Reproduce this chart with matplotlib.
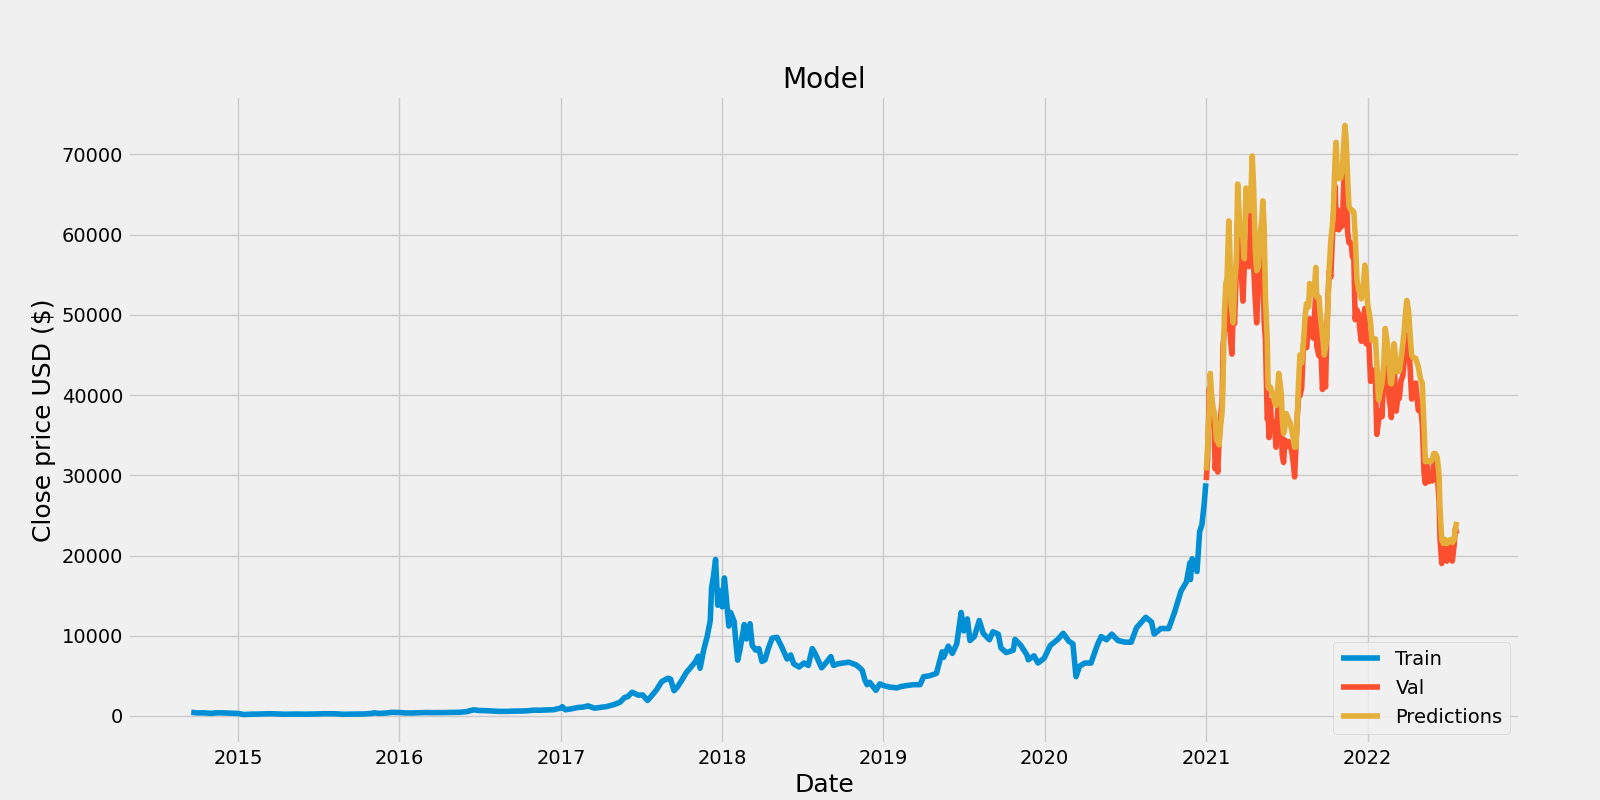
import matplotlib
matplotlib.use("Agg")
import matplotlib.pyplot as plt
import pandas as pd

# Train closes (BTC-USD)
train_dates = [
    "2014-09-17", "2014-10-01", "2014-10-15", "2014-11-01", "2014-11-15", "2014-12-01", "2014-12-15",
    "2015-01-01", "2015-01-14", "2015-02-01", "2015-02-15", "2015-03-01", "2015-03-15", "2015-04-01",
    "2015-04-15", "2015-05-01", "2015-05-15", "2015-06-01", "2015-06-15", "2015-07-01", "2015-07-15",
    "2015-08-01", "2015-08-15", "2015-08-25", "2015-09-15", "2015-10-01", "2015-10-15", "2015-11-01",
    "2015-11-04", "2015-11-15", "2015-12-01", "2015-12-15", "2016-01-01", "2016-01-15", "2016-02-01",
    "2016-02-15", "2016-03-01", "2016-03-15", "2016-04-01", "2016-04-15", "2016-05-01", "2016-05-15",
    "2016-06-01", "2016-06-17", "2016-07-01", "2016-07-15", "2016-08-01", "2016-08-15", "2016-09-01",
    "2016-09-15", "2016-10-01", "2016-10-15", "2016-11-01", "2016-11-15", "2016-12-01", "2016-12-15",
    "2017-01-01", "2017-01-04", "2017-01-11", "2017-01-25", "2017-02-08", "2017-02-22", "2017-03-03",
    "2017-03-18", "2017-04-01", "2017-04-15", "2017-05-01", "2017-05-15", "2017-05-25", "2017-06-01",
    "2017-06-11", "2017-06-25", "2017-07-05", "2017-07-16", "2017-07-26", "2017-08-05", "2017-08-17",
    "2017-08-31", "2017-09-06", "2017-09-14", "2017-09-22", "2017-10-01", "2017-10-12", "2017-10-21",
    "2017-11-01", "2017-11-08", "2017-11-12", "2017-11-20", "2017-11-28", "2017-12-05", "2017-12-08",
    "2017-12-12", "2017-12-17", "2017-12-22", "2017-12-27", "2018-01-01", "2018-01-06", "2018-01-10",
    "2018-01-16", "2018-01-20", "2018-01-28", "2018-02-01", "2018-02-05", "2018-02-10", "2018-02-20",
    "2018-02-25", "2018-03-05", "2018-03-10", "2018-03-18", "2018-03-25", "2018-04-01", "2018-04-08",
    "2018-04-15", "2018-04-24", "2018-05-05", "2018-05-15", "2018-05-28", "2018-06-05", "2018-06-12",
    "2018-06-24", "2018-07-05", "2018-07-15", "2018-07-24", "2018-08-01", "2018-08-14", "2018-08-25",
    "2018-09-04", "2018-09-10", "2018-09-20", "2018-10-01", "2018-10-15", "2018-11-01", "2018-11-14",
    "2018-11-20", "2018-11-25", "2018-12-01", "2018-12-15", "2018-12-24", "2019-01-01", "2019-01-15",
    "2019-02-01", "2019-02-08", "2019-02-24", "2019-03-10", "2019-03-25", "2019-04-02", "2019-04-15",
    "2019-05-01", "2019-05-14", "2019-05-17", "2019-05-28", "2019-06-06", "2019-06-16", "2019-06-26",
    "2019-07-02", "2019-07-10", "2019-07-16", "2019-07-26", "2019-08-06", "2019-08-15", "2019-08-29",
    "2019-09-06", "2019-09-18", "2019-09-24", "2019-10-06", "2019-10-22", "2019-10-26", "2019-11-08",
    "2019-11-22", "2019-11-25", "2019-12-08", "2019-12-17", "2019-12-31", "2020-01-14", "2020-01-30",
    "2020-02-12", "2020-02-25", "2020-03-05", "2020-03-12", "2020-03-20", "2020-04-01", "2020-04-15",
    "2020-04-29", "2020-05-08", "2020-05-20", "2020-06-01", "2020-06-15", "2020-07-01", "2020-07-15",
    "2020-07-27", "2020-08-17", "2020-08-30", "2020-09-05", "2020-09-20", "2020-10-08", "2020-10-21",
    "2020-11-05", "2020-11-17", "2020-11-25", "2020-11-26", "2020-11-30", "2020-12-11", "2020-12-17",
    "2020-12-22", "2020-12-27", "2020-12-31",
]
train_close = [
    457, 384, 395, 325, 400, 380, 345,
    315, 178, 226, 235, 260, 285, 245,
    220, 232, 237, 222, 236, 258, 285,
    281, 261, 210, 229, 237, 254, 325,
    403, 320, 362, 454, 434, 375, 372,
    406, 435, 415, 417, 430, 450, 457,
    536, 767, 676, 665, 606, 567, 572,
    607, 613, 638, 729, 711, 756, 778,
    998, 1154, 777, 894, 1052, 1125, 1259,
    971, 1080, 1180, 1421, 1726, 2310, 2400,
    2958, 2590, 2620, 1930, 2560, 3230, 4280,
    4700, 4600, 3150, 3630, 4400, 5430, 6000,
    6740, 7450, 5950, 8200, 9900, 11900, 16000,
    17300, 19500, 13800, 15600, 13600, 17200, 14900,
    11200, 12900, 11800, 9170, 6950, 8200, 11400,
    9600, 11500, 8800, 8200, 8400, 6800, 7000,
    8350, 9700, 9800, 8700, 7100, 7600, 6500,
    6100, 6600, 6300, 8400, 7600, 6000, 6700,
    7400, 6300, 6500, 6600, 6700, 6350, 5700,
    4500, 3900, 4200, 3200, 4000, 3800, 3600,
    3500, 3650, 3800, 3900, 3900, 4900, 5000,
    5300, 8000, 7300, 8700, 7800, 8980, 12900,
    10600, 12100, 9400, 9900, 11900, 10300, 9500,
    10500, 10200, 8500, 7900, 8200, 9550, 8800,
    7600, 7000, 7500, 6600, 7200, 8800, 9500,
    10300, 9300, 9000, 4900, 6200, 6600, 6600,
    8800, 9900, 9500, 10200, 9400, 9200, 9200,
    11000, 12300, 11700, 10200, 10900, 10900, 12900,
    15600, 16700, 19100, 17000, 19600, 18000, 23000,
    23800, 26300, 29000,
]

# Validation period: actual closes and model predictions
valid_dates = [
    "2021-01-01", "2021-01-04", "2021-01-08", "2021-01-10", "2021-01-13", "2021-01-16", "2021-01-19",
    "2021-01-21", "2021-01-24", "2021-01-27", "2021-01-30", "2021-02-03", "2021-02-06", "2021-02-08",
    "2021-02-11", "2021-02-14", "2021-02-17", "2021-02-21", "2021-02-23", "2021-02-26", "2021-02-28",
    "2021-03-03", "2021-03-06", "2021-03-10", "2021-03-13", "2021-03-16", "2021-03-19", "2021-03-22",
    "2021-03-25", "2021-03-28", "2021-04-01", "2021-04-04", "2021-04-07", "2021-04-10", "2021-04-13",
    "2021-04-15", "2021-04-18", "2021-04-22", "2021-04-25", "2021-04-29", "2021-05-03", "2021-05-07",
    "2021-05-09", "2021-05-12", "2021-05-15", "2021-05-19", "2021-05-21", "2021-05-23", "2021-05-26",
    "2021-05-29", "2021-06-01", "2021-06-05", "2021-06-08", "2021-06-11", "2021-06-14", "2021-06-17",
    "2021-06-20", "2021-06-22", "2021-06-25", "2021-06-28", "2021-07-01", "2021-07-06", "2021-07-10",
    "2021-07-14", "2021-07-17", "2021-07-20", "2021-07-23", "2021-07-26", "2021-07-29", "2021-08-01",
    "2021-08-05", "2021-08-09", "2021-08-13", "2021-08-16", "2021-08-21", "2021-08-23", "2021-08-27",
    "2021-08-31", "2021-09-03", "2021-09-06", "2021-09-08", "2021-09-13", "2021-09-16", "2021-09-21",
    "2021-09-25", "2021-09-28", "2021-10-01", "2021-10-06", "2021-10-10", "2021-10-15", "2021-10-20",
    "2021-10-22", "2021-10-25", "2021-10-28", "2021-11-01", "2021-11-05", "2021-11-09", "2021-11-11",
    "2021-11-14", "2021-11-17", "2021-11-20", "2021-11-25", "2021-11-28", "2021-12-01", "2021-12-04",
    "2021-12-08", "2021-12-12", "2021-12-14", "2021-12-18", "2021-12-22", "2021-12-26", "2021-12-29",
    "2022-01-01", "2022-01-04", "2022-01-08", "2022-01-11", "2022-01-15", "2022-01-19", "2022-01-22",
    "2022-01-26", "2022-01-30", "2022-02-03", "2022-02-07", "2022-02-10", "2022-02-14", "2022-02-18",
    "2022-02-22", "2022-02-24", "2022-02-28", "2022-03-02", "2022-03-07", "2022-03-10", "2022-03-14",
    "2022-03-18", "2022-03-22", "2022-03-25", "2022-03-29", "2022-03-31", "2022-04-04", "2022-04-08",
    "2022-04-11", "2022-04-15", "2022-04-20", "2022-04-26", "2022-05-01", "2022-05-05", "2022-05-09",
    "2022-05-12", "2022-05-15", "2022-05-20", "2022-05-24", "2022-05-28", "2022-05-31", "2022-06-04",
    "2022-06-08", "2022-06-12", "2022-06-14", "2022-06-18", "2022-06-22", "2022-06-26", "2022-06-30",
    "2022-07-04", "2022-07-08", "2022-07-12", "2022-07-16", "2022-07-19", "2022-07-22",
]
valid_close = [
    29400, 32000, 40800, 38400, 37300, 36800, 36000,
    30800, 32300, 30400, 34300, 37600, 39300, 46200,
    47900, 48800, 52100, 57500, 48800, 46300, 45100,
    50500, 48900, 55900, 61200, 56900, 58300, 54500,
    51700, 55900, 58700, 58200, 56000, 59800, 63500,
    63300, 56200, 51800, 49000, 53600, 56600, 57400,
    58200, 49200, 46800, 37000, 37500, 34700, 39300,
    35700, 36700, 35500, 33500, 37300, 40200, 38100,
    35800, 32500, 31600, 34400, 33600, 34200, 33800,
    32800, 31500, 29800, 33600, 37300, 40000, 39900,
    40900, 46300, 47800, 45900, 48900, 49500, 49100,
    47100, 50000, 52700, 46100, 44900, 47800, 40700,
    42800, 41000, 48200, 55400, 54700, 61500, 66000,
    60700, 63100, 60600, 61000, 61100, 67500, 64900,
    65500, 60300, 59000, 58900, 57200, 57300, 49400,
    50600, 50100, 48400, 46700, 48600, 50800, 46400,
    47700, 46500, 41700, 42700, 43100, 41700, 35100,
    36800, 38000, 37300, 43800, 43500, 42500, 40000,
    38300, 37200, 43200, 44400, 38000, 39400, 39600,
    41800, 42400, 44300, 47500, 45500, 46600, 42800,
    39500, 40600, 41500, 38100, 38500, 36500, 30300,
    29000, 31300, 29200, 29600, 29300, 31800, 29800,
    30100, 26800, 22200, 19000, 20000, 21000, 19300,
    20200, 21600, 19300, 21200, 23400, 22700,
]
valid_pred = [
    30600, 33500, 38500, 42700, 40000, 38500, 37800,
    37000, 34500, 34200, 33800, 36500, 38000, 42000,
    50000, 53800, 54500, 61700, 58500, 51400, 50500,
    49000, 54000, 56500, 66300, 63000, 60000, 61000,
    59500, 57000, 65800, 64000, 64900, 63000, 66500,
    69800, 66000, 58000, 55500, 56000, 60000, 62000,
    64200, 61000, 52000, 47000, 41000, 40800, 41000,
    40500, 40000, 39100, 38700, 40000, 42700, 41500,
    40000, 37000, 35200, 36000, 37700, 37000, 36500,
    35500, 34500, 33500, 33500, 37500, 41500, 45000,
    44000, 46500, 50000, 51400, 51000, 53900, 53500,
    52500, 53500, 55900, 52200, 52200, 50000, 47500,
    45000, 46000, 47000, 55500, 59300, 62000, 70000,
    71500, 67500, 67000, 67000, 68000, 72000, 73600,
    71500, 67000, 63500, 63000, 63000, 62800, 60000,
    54500, 53000, 53000, 52000, 53000, 56200, 55000,
    51500, 50500, 49000, 46800, 46800, 47000, 44000,
    39400, 40500, 41500, 44000, 48300, 46800, 45000,
    41500, 41400, 43000, 46400, 44000, 42900, 43000,
    44500, 46400, 48000, 50800, 51800, 50500, 47000,
    45000, 44600, 44600, 43500, 42000, 41500, 36000,
    31700, 31700, 31800, 31700, 32000, 32700, 32700,
    32200, 30000, 26000, 22000, 21500, 22000, 21500,
    21800, 22000, 21600, 22000, 23400, 24200,
]

train = pd.DataFrame({"Close": train_close}, index=pd.to_datetime(train_dates))
valid = pd.DataFrame({"Close": valid_close, "Predictions": valid_pred},
                     index=pd.to_datetime(valid_dates))

plt.style.use("fivethirtyeight")
plt.figure(figsize=(16, 8))
plt.title("Model")
plt.xlabel("Date", fontsize=18)
plt.ylabel("Close price USD ($)", fontsize=18)
plt.plot(train["Close"])
plt.plot(valid[["Close", "Predictions"]])
plt.legend(["Train", "Val", "Predictions"], loc="lower right")
plt.savefig("out.png", dpi=100)
